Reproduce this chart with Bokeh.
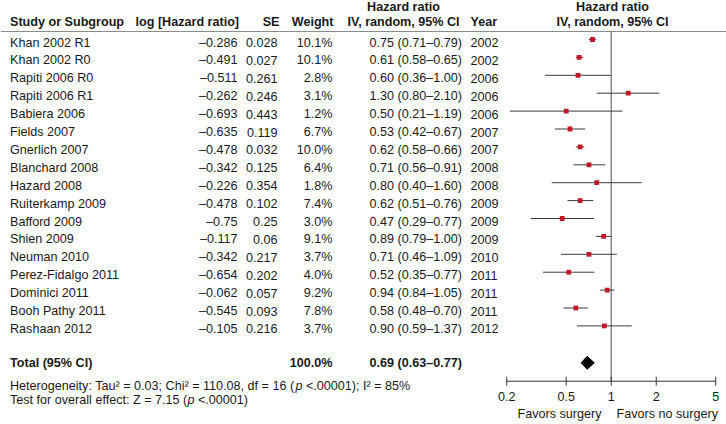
from bokeh.plotting import figure
from bokeh.models import Range1d, LogScale
from bokeh.core.properties import value
from bokeh.embed import file_html
from bokeh.resources import INLINE

# ---------------- data ----------------
studies = ["Khan 2002 R1", "Khan 2002 R0", "Rapiti 2006 R0", "Rapiti 2006 R1",
           "Babiera 2006", "Fields 2007", "Gnerlich 2007", "Blanchard 2008",
           "Hazard 2008", "Ruiterkamp 2009", "Bafford 2009", "Shien 2009",
           "Neuman 2010", "Perez-Fidalgo 2011", "Dominici 2011",
           "Booh Pathy 2011", "Rashaan 2012"]
log_hr = [-0.286, -0.491, -0.511, -0.262, -0.693, -0.635, -0.478, -0.342,
          -0.226, -0.478, -0.75, -0.117, -0.342, -0.654, -0.062, -0.545, -0.105]
se = [0.028, 0.027, 0.261, 0.246, 0.443, 0.119, 0.032, 0.125, 0.354, 0.102,
      0.25, 0.06, 0.217, 0.202, 0.057, 0.093, 0.216]
weight = [10.1, 10.1, 2.8, 3.1, 1.2, 6.7, 10.0, 6.4, 1.8, 7.4, 3.0, 9.1, 3.7,
          4.0, 9.2, 7.8, 3.7]
hr = [0.75, 0.61, 0.60, 1.30, 0.50, 0.53, 0.62, 0.71, 0.80, 0.62, 0.47, 0.89,
      0.71, 0.52, 0.94, 0.58, 0.90]
ci_lo = [0.71, 0.58, 0.36, 0.80, 0.21, 0.42, 0.58, 0.56, 0.40, 0.51, 0.29,
         0.79, 0.46, 0.35, 0.84, 0.48, 0.59]
ci_hi = [0.79, 0.65, 1.00, 2.10, 1.19, 0.67, 0.66, 0.91, 1.60, 0.76, 0.77,
         1.00, 1.09, 0.77, 1.05, 0.70, 1.37]
years = [2002, 2002, 2006, 2006, 2006, 2007, 2007, 2008, 2008, 2009, 2009,
         2009, 2010, 2011, 2011, 2011, 2012]
total_hr, total_lo, total_hi = 0.69, 0.63, 0.77
total_weight = 100.0
tick_values = [0.2, 0.5, 1, 2, 5]
tick_labels = ["0.2", "0.5", "1", "2", "5"]

# ---------------- layout ----------------
W, H = 726, 424
FS = "12.6px"
FONT = value("Liberation Sans")
TXT = "#1a1a1a"
rows = list(range(1, len(studies) + 1))
DASH = "\u2013"
TOFF = 0.17  # table text sits slightly below the marker line

p = figure(width=W, height=H, output_backend="svg", toolbar_location=None,
           x_range=Range1d(0, W), y_range=Range1d(22.508, -1.179),
           x_axis_location=None, y_axis_location=None, min_border=0)
p.grid.visible = False
p.outline_line_color = None
p.extra_x_ranges = {"hr": Range1d(8.22e-5, 5.904)}
p.extra_x_scales = {"hr": LogScale()}


def txt(x, y, t, align="left", bold=False, italic=False, rng="default",
        baseline="middle", color=TXT):
    if not isinstance(x, list):
        x, y, t = [x], [y], [t]
    style = "bold" if bold else ("italic" if italic else "normal")
    p.text(x=x, y=y, text=t, text_font=FONT, text_font_size=FS,
           text_font_style=style, text_align=align, text_baseline=baseline,
           text_color=color, x_range_name=rng)


# headers
Y_H1, Y_H2, Y_HL = -0.788, 0.05, 0.553
txt(9.5, Y_H2, "Study or Subgroup", bold=True)
txt(135, Y_H2, "log [Hazard ratio]", bold=True)
txt(279, Y_H2, "SE", align="right", bold=True)
txt(333, Y_H2, "Weight", align="right", bold=True)
txt(403, Y_H1, "Hazard ratio", align="center", bold=True)
txt(403, Y_H2, "IV, random, 95% CI", align="center", bold=True)
txt(470, Y_H2, "Year", bold=True)
txt(612, Y_H1, "Hazard ratio", align="center", bold=True)
txt(612, Y_H2, "IV, random, 95% CI", align="center", bold=True)
p.segment(x0=[0], x1=[W], y0=[Y_HL], y1=[Y_HL], line_color="#8c8c8c", line_width=1)

# table rows
n = len(rows)
ty = [r + TOFF for r in rows]
txt([9.5] * n, ty, studies)
txt([237] * n, ty, [str(v).replace("-", DASH) for v in log_hr], align="right")
txt([277] * n, ty, [str(v) for v in se], align="right")
txt([332] * n, ty, [f"{w:.1f}%" for w in weight], align="right")
txt([369] * n, ty, [f"{a:.2f} ({b:.2f}{DASH}{c:.2f})" for a, b, c in zip(hr, ci_lo, ci_hi)])
txt([470] * n, ty, [str(y) for y in years])

# total row
Y_T = 19.06
txt(9.5, Y_T, "Total (95% CI)", bold=True)
txt(332, Y_T, f"{total_weight:.1f}%", align="right", bold=True)
txt(369, Y_T, f"{total_hr:.2f} ({total_lo:.2f}{DASH}{total_hi:.2f})", bold=True)

# heterogeneity
Y_HET, Y_TEST = 20.33, 21.14
txt(9.5, Y_HET, "Heterogeneity: Tau\u00b2 = 0.03; Chi\u00b2 = 110.08, df = 16 (")
txt(295.0, Y_HET, "p", italic=True)
txt(305.5, Y_HET, "<.00001); I\u00b2 = 85%")
txt(9.5, Y_TEST, "Test for overall effect: Z = 7.15 (")
txt(187.0, Y_TEST, "p", italic=True)
txt(197.5, Y_TEST, "<.00001)")

# forest plot
Y_AX = 20.09
p.segment(x0=[1], x1=[1], y0=[Y_HL], y1=[Y_AX], x_range_name="hr",
          line_color="#6e6e6e", line_width=1.2)
p.segment(x0=ci_lo, x1=ci_hi, y0=rows, y1=rows, x_range_name="hr",
          line_color="#3a3a3a", line_width=1)
p.scatter(x=hr, y=rows, marker="square", size=4.8, fill_color="#c0182a",
          line_color=None, x_range_name="hr")
d = 0.36
p.patch(x=[total_lo, total_hr, total_hi, total_hr],
        y=[Y_T, Y_T - d, Y_T, Y_T + d], x_range_name="hr",
        fill_color="black", line_color="black")

# log axis drawn with the hr scale
p.segment(x0=[tick_values[0]], x1=[tick_values[-1]], y0=[Y_AX], y1=[Y_AX],
          x_range_name="hr", line_color="#333333", line_width=1)
p.segment(x0=tick_values, x1=tick_values, y0=[Y_AX - 0.25] * len(tick_values),
          y1=[Y_AX + 0.25] * len(tick_values), x_range_name="hr",
          line_color="#333333", line_width=1)
txt(tick_values, [20.95] * len(tick_values), tick_labels, align="center", rng="hr")
txt(0.86, 21.93, "Favors surgery", align="right", rng="hr")
txt(1.085, 21.93, "Favors no surgery", align="left", rng="hr")

open("out.html", "w").write(file_html(p, INLINE))
